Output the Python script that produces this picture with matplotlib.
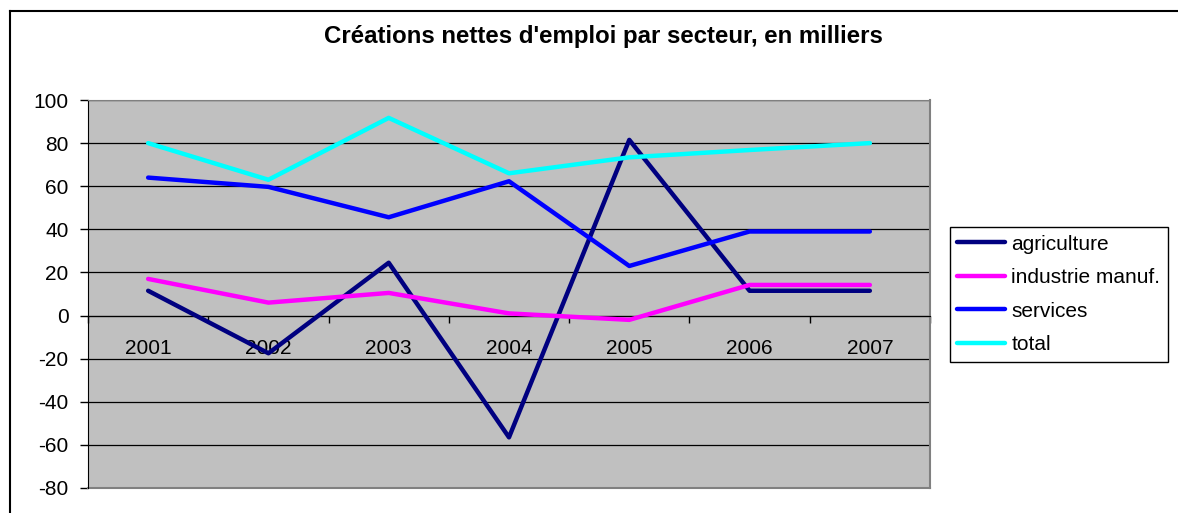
import matplotlib
matplotlib.use("Agg")
import matplotlib.pyplot as plt
from matplotlib.lines import Line2D
import numpy as np

years = ["2001", "2002", "2003", "2004", "2005", "2006", "2007"]
agriculture = [11.5, -17.5, 24.5, -56.5, 81.5, 11.5, 11.5]
industrie = [17, 6, 10.5, 1, -2, 14.2, 14.2]
services = [64, 59.7, 45.6, 62.3, 23, 39, 39]
total = [80, 63, 91.7, 66, 73.4, 76.8, 80]

series = [
    ("agriculture", agriculture, "#000080"),
    ("industrie manuf.", industrie, "#FF00FF"),
    ("services", services, "#0000FF"),
    ("total", total, "#00FFFF"),
]

plt.rcParams["font.family"] = ["Liberation Sans", "DejaVu Sans"]
plt.rcParams["axes.unicode_minus"] = False

fig = plt.figure(figsize=(11.78, 5.13), dpi=100)
ax = fig.add_axes([88 / 1178, 1 - 488 / 513, (930 - 88) / 1178, (488 - 100) / 513])
ax.set_facecolor("#C0C0C0")

x = np.arange(len(years))
for name, vals, col in series:
    ax.plot(x, vals, color=col, lw=3.2, label=name, solid_capstyle="round", zorder=3)

ax.set_xlim(-0.5, len(years) - 0.5)
ax.set_ylim(-80, 100)
ax.set_yticks(range(-80, 101, 20))
ax.yaxis.grid(True, color="black", lw=0.9)
ax.set_axisbelow(True)

# x axis sits on zero, labels below it, ticks between categories
ax.spines["bottom"].set_position(("data", 0))
ax.spines["bottom"].set_color("black")
ax.set_xticks(x)
ax.set_xticklabels(years, fontsize=15)
ax.set_xticks(np.arange(-0.5, len(years)), minor=True)
ax.tick_params(axis="x", which="major", length=0, pad=17)
ax.tick_params(axis="x", which="minor", length=5, width=1, direction="out")
ax.tick_params(axis="y", length=6, width=1, direction="out", labelsize=15, pad=8)

ax.spines["left"].set_color("black")
ax.spines["top"].set_color("#808080")
ax.spines["right"].set_color("#808080")
ax.spines["right"].set_linewidth(1.5)
ax.axhline(-80, color="#808080", lw=1.5, clip_on=False)

fig.text(603 / 1178, 1 - 37 / 513, "Créations nettes d'emploi par secteur, en milliers",
         ha="center", va="center", fontsize=17.3, fontweight="bold")

# outer chart frame
fig.add_artist(Line2D([10 / 1178, 10 / 1178], [0, 1 - 11 / 513], color="black", lw=1.5))
fig.add_artist(Line2D([10 / 1178, 1], [1 - 11 / 513, 1 - 11 / 513], color="black", lw=1.5))

leg = ax.legend(loc="center left", bbox_to_anchor=(950 / 1178, 1 - 294.5 / 513),
                bbox_transform=fig.transFigure, fontsize=15, frameon=True,
                fancybox=False, framealpha=1, edgecolor="black",
                handlelength=2.3, handletextpad=0.3, labelspacing=0.7,
                borderpad=0.35, borderaxespad=0)
leg.get_frame().set_linewidth(1)

fig.savefig("out.png", dpi=100)
